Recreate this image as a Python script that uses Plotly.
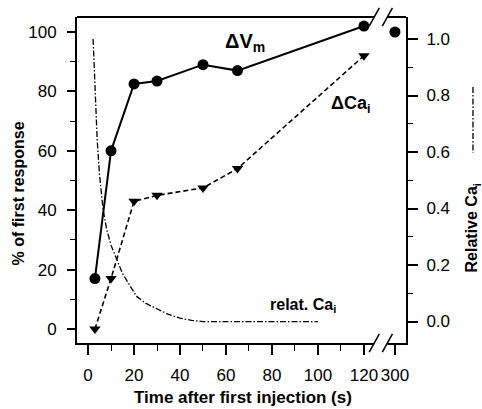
import plotly.graph_objects as go

# ---- data ----
time_vm = [3, 10, 20, 30, 50, 65, 120]
delta_vm = [17, 60, 82.5, 83.5, 89, 87, 102]
time_late = [300]
delta_vm_late = [100]

time_ca = [3, 10, 20, 30, 50, 65, 120]
delta_ca = [0, 17, 43, 45, 47.5, 54, 92]

time_rel = [2.2, 3, 4, 5, 6.5, 8, 10, 12.5, 15, 18, 21, 25, 30, 35, 40, 45, 50, 60, 70, 80, 90, 100]
rel_ca = [1.0, 0.82, 0.64, 0.52, 0.40, 0.33, 0.27, 0.22, 0.17, 0.13, 0.09, 0.065,
          0.045, 0.025, 0.012, 0.004, 0.0, 0.0, 0.0, 0.0, 0.0, 0.0]

x_tick_times = [0, 20, 40, 60, 80, 100, 120, 300]
x_minor_times = [10, 30, 50, 70, 90, 110]
y_ticks = [0, 20, 40, 60, 80, 100]
y_minor = [10, 30, 50, 70, 90]
y2_ticks = [0.0, 0.2, 0.4, 0.6, 0.8, 1.0]
y2_minor = [0.1, 0.3, 0.5, 0.7, 0.9]

# broken time axis: linear up to 120 s, then a break, late time placed after the break
BREAK_AT = 120
LATE_OFFSET = 13.5


def axis_pos(t):
    return t if t <= BREAK_AT else BREAK_AT + LATE_OFFSET


def pos_list(ts):
    return [axis_pos(t) for t in ts]


FONT = "Liberation Sans, Arial, sans-serif"
BLACK = "black"

fig = go.Figure()

fig.add_trace(go.Scatter(
    x=pos_list(time_rel), y=rel_ca, yaxis="y2", mode="lines",
    line=dict(color=BLACK, width=1.3, dash="6px,2px,1.5px,2px"),
    showlegend=False, hoverinfo="skip"))

fig.add_trace(go.Scatter(
    x=pos_list(time_ca), y=delta_ca, mode="lines+markers",
    line=dict(color=BLACK, width=1.6, dash="5px,3px"),
    marker=dict(symbol="triangle-down", size=10, color=BLACK),
    showlegend=False))

fig.add_trace(go.Scatter(
    x=pos_list(time_vm), y=delta_vm, mode="lines+markers",
    line=dict(color=BLACK, width=2),
    marker=dict(symbol="circle", size=11, color=BLACK),
    showlegend=False))

fig.add_trace(go.Scatter(
    x=pos_list(time_late), y=delta_vm_late, mode="markers",
    marker=dict(symbol="circle", size=11, color=BLACK),
    showlegend=False))

tick_font = dict(family=FONT, size=17, color=BLACK)

fig.update_layout(
    width=482, height=409,
    margin=dict(l=77, r=76, t=17, b=66),
    paper_bgcolor="white", plot_bgcolor="white",
    xaxis=dict(
        range=[-4.8, 138.3], showgrid=False, zeroline=False,
        showline=True, linecolor=BLACK, linewidth=2,
        tickmode="array", tickvals=pos_list(x_tick_times),
        ticktext=[str(t) for t in x_tick_times],
        ticks="outside", ticklen=10, tickwidth=1.6, tickcolor=BLACK,
        tickfont=tick_font, ticklabelstandoff=6,
        minor=dict(tickmode="array", tickvals=pos_list(x_minor_times),
                   ticks="outside", ticklen=6, tickwidth=1.4, tickcolor=BLACK),
    ),
    yaxis=dict(
        range=[-4.71, 105.05], showgrid=False, zeroline=False,
        showline=True, linecolor=BLACK, linewidth=2,
        tickmode="array", tickvals=y_ticks,
        ticks="outside", ticklen=8, tickwidth=1.6, tickcolor=BLACK,
        tickfont=tick_font, ticklabelstandoff=7,
        minor=dict(tickmode="array", tickvals=y_minor,
                   ticks="outside", ticklen=5, tickwidth=1.4, tickcolor=BLACK),
    ),
    yaxis2=dict(
        range=[-0.076, 1.078], overlaying="y", side="right", anchor="x",
        showgrid=False, zeroline=False,
        showline=True, linecolor=BLACK, linewidth=2,
        tickmode="array", tickvals=y2_ticks, tickformat=".1f",
        ticks="outside", ticklen=10, tickwidth=1.6, tickcolor=BLACK,
        tickfont=tick_font, ticklabelstandoff=5,
        minor=dict(tickmode="array", tickvals=y2_minor,
                   ticks="outside", ticklen=5, tickwidth=1.4, tickcolor=BLACK),
    ),
)

# break gap in the time axis (in axis units)
gap_lo, gap_hi = 124.5, 130.2
shapes = [
    # white-out the bottom axis line inside the break
    dict(type="rect", xref="x", yref="paper", x0=gap_lo, x1=gap_hi, y0=-0.012, y1=0.012,
         fillcolor="white", line=dict(width=0), layer="above"),
    # top border with a gap
    dict(type="line", xref="x", yref="paper", x0=-4.8, x1=gap_lo, y0=1, y1=1,
         line=dict(color=BLACK, width=2)),
    dict(type="line", xref="x", yref="paper", x0=gap_hi, x1=138.3, y0=1, y1=1,
         line=dict(color=BLACK, width=2)),
]
# break slashes, top and bottom
for yc in (1.0, 0.0):
    for xc in (gap_lo, gap_hi):
        shapes.append(dict(type="line", xref="x", yref="paper",
                           x0=xc - 2.2, x1=xc + 2.2, y0=yc - 0.028, y1=yc + 0.028,
                           line=dict(color=BLACK, width=1.5)))
# dash-dot legend sample next to the right axis title
shapes.append(dict(type="line", xref="paper", yref="paper",
                   x0=1.2036, x1=1.2036, y0=(343 - 87) / 326, y1=(343 - 153) / 326,
                   line=dict(color=BLACK, width=1.3, dash="6px,2px,1.5px,2px")))
fig.update_layout(shapes=shapes)

title_font = dict(family=FONT, size=17, color=BLACK)
annotations = [
    dict(text="Time after first injection (s)", xref="paper", yref="paper",
         x=0.505, y=-0.166, showarrow=False, font=title_font,
         xanchor="center", yanchor="middle"),
    dict(text="% of first response", xref="paper", yref="paper",
         x=-0.178, y=0.46, showarrow=False, font=dict(family=FONT, size=16, color=BLACK),
         textangle=-90, xanchor="center", yanchor="middle"),
    dict(text="Relative Ca<sub>i</sub>", xref="paper", yref="paper",
         x=1.202, y=(343 - 228) / 326, showarrow=False,
         font=dict(family=FONT, size=16, color=BLACK), textangle=-90,
         xanchor="center", yanchor="middle"),
    dict(text="<b>ΔV<sub>m</sub></b>", xref="paper", yref="paper",
         x=(245 - 77) / 329, y=(343 - 42) / 326, showarrow=False,
         font=dict(family=FONT, size=20, color=BLACK), xanchor="center", yanchor="middle"),
    dict(text="<b>ΔCa<sub>i</sub></b>", xref="paper", yref="paper",
         x=(350 - 77) / 329, y=(343 - 104) / 326, showarrow=False,
         font=dict(family=FONT, size=18, color=BLACK), xanchor="center", yanchor="middle"),
    dict(text="<b>relat. Ca<sub>i</sub></b>", xref="paper", yref="paper",
         x=(303 - 77) / 329, y=(343 - 305) / 326, showarrow=False,
         font=dict(family=FONT, size=16, color=BLACK), xanchor="center", yanchor="middle"),
]
for a in annotations[:3]:
    a["text"] = "<b>" + a["text"] + "</b>"
fig.update_layout(annotations=annotations)

fig.write_html("out.html")
